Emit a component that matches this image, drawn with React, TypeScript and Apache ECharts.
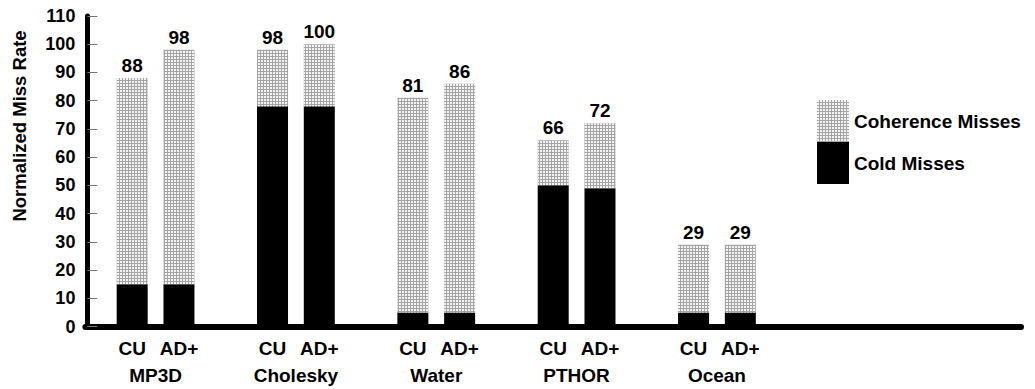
import React, { useEffect, useRef } from "react";
import * as echarts from "echarts";

const groups = ["MP3D", "Cholesky", "Water", "PTHOR", "Ocean"];
const configs = ["CU", "AD+"];
const coldMisses = [15, 15, 78, 78, 5, 5, 50, 49, 5, 5];
const totals = [88, 98, 98, 100, 81, 86, 66, 72, 29, 29];
const coherenceMisses = totals.map((t, i) => t - coldMisses[i]);
const yTicks = { min: 0, max: 110, interval: 10 };

const FONT = "'Liberation Sans', Arial, Helvetica, sans-serif";
const SLOTS = 21; // slot 0 .. 20 along the x axis

// slot position of each bar: groups of two bars separated by one empty slot
const slotIndex: number[] = [];
const barLabels: Record<number, string> = {};
const groupLabels: Record<string, string> = {};
groups.forEach((g, gi) => {
  configs.forEach((c, ci) => {
    const p = gi * 3 + ci + 1;
    slotIndex.push(p);
    barLabels[p] = c;
  });
  groupLabels[(gi * 3 + 1.5).toFixed(1)] = g;
});

const slots = Array.from({ length: SLOTS }, (_, i) => String(i));
const fill = (vals: number[]) => {
  const out: any[] = slots.map(() => "-");
  slotIndex.forEach((p, i) => (out[p] = vals[i]));
  return out;
};
const totalBySlot: Record<number, number> = {};
slotIndex.forEach((p, i) => (totalBySlot[p] = totals[i]));

export default function App() {
  const ref = useRef<HTMLDivElement>(null);
  useEffect(() => {
    if (!ref.current) return;
    const chart = echarts.init(ref.current, undefined, { renderer: "svg" });
    const labelStyle = {
      color: "#000",
      fontFamily: FONT,
      fontSize: 19,
      fontWeight: "bold",
    };
    chart.setOption({
      animation: false,
      backgroundColor: "#ffffff",
      textStyle: { fontFamily: FONT },
      grid: { left: 85.4, right: 14, top: 16, bottom: 62.5, containLabel: false },
      legend: {
        orient: "vertical",
        left: 817,
        top: 100,
        itemWidth: 32,
        itemHeight: 42,
        itemGap: 0,
        padding: 0,
        icon: "rect",
        selectedMode: false,
        data: ["Coherence Misses", "Cold Misses"],
        textStyle: { ...labelStyle },
      },
      xAxis: [
        {
          type: "category",
          data: slots,
          boundaryGap: false,
          show: false,
        },
        {
          type: "value",
          min: 0,
          max: SLOTS - 1,
          interval: 1,
          position: "bottom",
          axisLine: { show: true, lineStyle: { color: "#000", width: 6 } },
          axisTick: { show: false },
          splitLine: { show: false },
          axisLabel: {
            margin: 12,
            showMaxLabel: false,
            showMinLabel: false,
            ...labelStyle,
            formatter: (v: number) => barLabels[Math.round(v)] ?? "",
          },
        },
        {
          type: "value",
          min: 0,
          max: SLOTS - 1,
          interval: 1.5,
          position: "bottom",
          offset: 27,
          axisLine: { show: false },
          axisTick: { show: false },
          splitLine: { show: false },
          axisLabel: {
            margin: 12,
            showMaxLabel: false,
            showMinLabel: false,
            ...labelStyle,
            formatter: (v: number) => groupLabels[v.toFixed(1)] ?? "",
          },
        },
      ],
      yAxis: {
        type: "value",
        min: yTicks.min,
        max: yTicks.max,
        interval: yTicks.interval,
        offset: -2,
        axisLine: { show: true, lineStyle: { color: "#000", width: 5 } },
        axisTick: { show: true, inside: true, length: 10, lineStyle: { color: "#777", width: 1 } },
        splitLine: { show: false },
        axisLabel: {
          margin: 12,
          color: "#000",
          fontFamily: FONT,
          fontSize: 18,
          fontWeight: "bold",
        },
      },
      graphic: [
        {
          type: "text",
          x: 19,
          y: 126,
          rotation: Math.PI / 2,
          style: {
            text: "Normalized Miss Rate",
            fontFamily: FONT,
            fontSize: 18.5,
            fontWeight: "bold",
            fill: "#000",
            align: "center",
            verticalAlign: "middle",
          },
        },
      ],
      series: [
        {
          name: "Cold Misses",
          type: "bar",
          stack: "total",
          barWidth: 31,
          xAxisIndex: 0,
          itemStyle: { color: "#000" },
          data: fill(coldMisses),
        },
        {
          name: "Coherence Misses",
          type: "bar",
          stack: "total",
          barWidth: 31,
          xAxisIndex: 0,
          itemStyle: {
            color: "#a4a4a4",
            decal: {
              symbol: "rect",
              symbolSize: 1,
              color: "#f4f4f4",
              dashArrayX: [2, 1],
              dashArrayY: [2, 1],
              rotation: 0,
            },
          },
          label: {
            show: true,
            position: "top",
            distance: 3,
            ...labelStyle,
            formatter: (p: any) => String(totalBySlot[p.dataIndex] ?? ""),
          },
          data: fill(coherenceMisses),
        },
      ],
    });
    return () => chart.dispose();
  }, []);
  return (
    <div
      ref={ref}
      style={{ position: "fixed", left: 0, top: 0, width: 1035, height: 389 }}
    />
  );
}
